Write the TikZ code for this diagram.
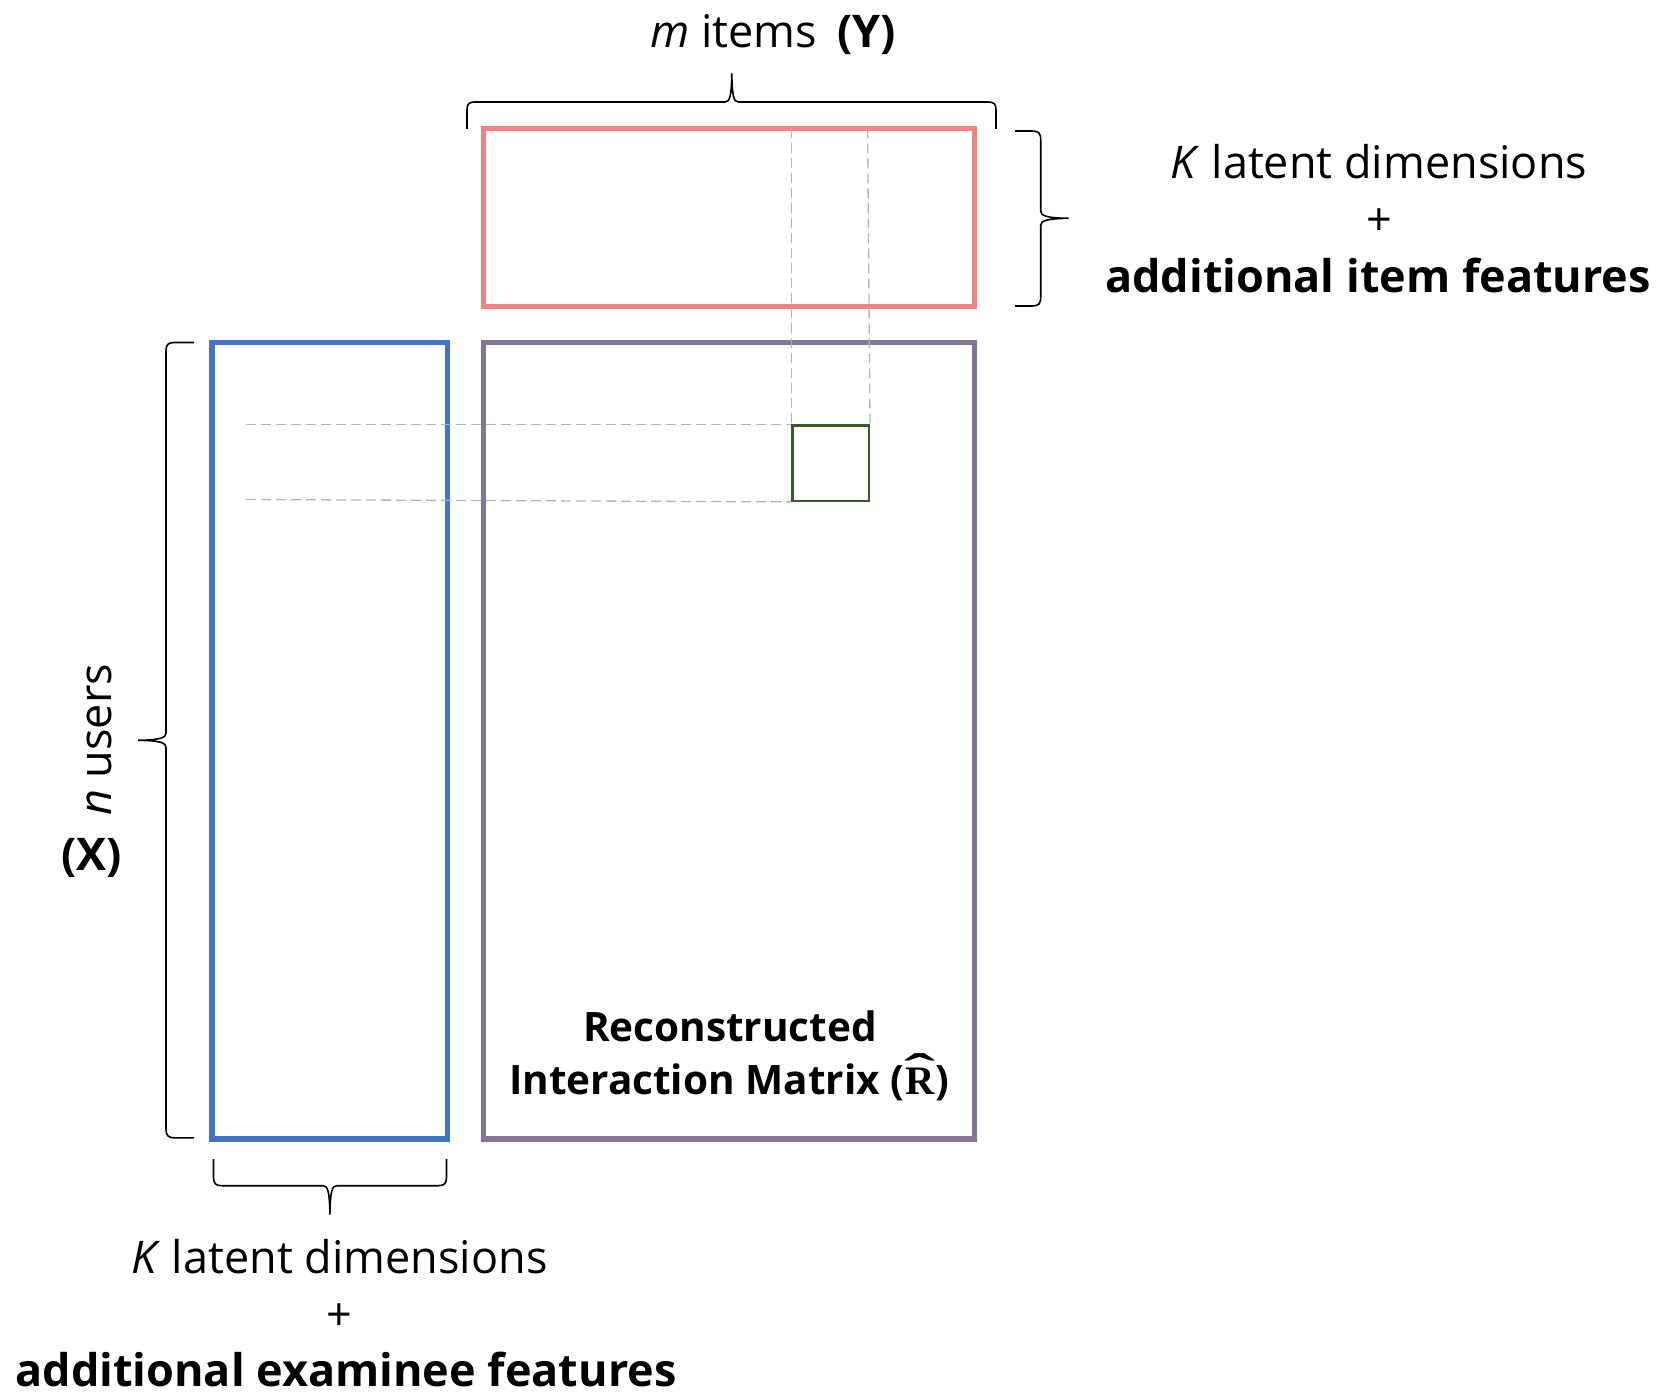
\documentclass[tikz,border=0pt]{standalone}
\usepackage{fontspec}
\usepackage{graphicx}
\setmainfont{Open Sans}
\newfontfamily\hatserif{Liberation Serif}
\usetikzlibrary{calc}

\definecolor{itemred}{HTML}{EC8585}
\definecolor{userblue}{HTML}{4472C4}
\definecolor{matpurple}{HTML}{85749A}
\definecolor{cellgreen}{HTML}{3B5A2A}
\definecolor{guidegray}{HTML}{B4B4B4}

% bold serif R with a wide circumflex over it
\newcommand\rhat{\leavevmode\vbox{\offinterlineskip\halign{\hfil##\hfil\cr
  \scalebox{2.3}[1.15]{\hatserif\bfseries\char"02C6}\cr
  \noalign{\kern-0.47em}
  {\hatserif\bfseries R}\cr}}}

\tikzset{
  matbox/.style={line width=5.3pt},
  cellbox/.style={draw=cellgreen, line width=2.4pt},
  guide/.style={draw=guidegray, line width=1.3pt, dash pattern=on 10pt off 5pt},
  bracepath/.style={draw=black, line width=1.6pt},
  lbl/.style={inner sep=0pt, anchor=base, font=\fontsize{45}{54}\selectfont},
  blbl/.style={lbl, font=\fontsize{45}{54}\selectfont\bfseries},
  mlbl/.style={lbl, font=\fontsize{40.5}{48}\selectfont\bfseries},
}

\begin{document}
\begin{tikzpicture}[x=1pt, y=-1pt]
  \useasboundingbox (0,0) rectangle (1663,1396);

  % factor matrices and the reconstructed matrix
  \draw[matbox, draw=itemred]   (483.6,128.3) rectangle (974.7,306.5);
  \draw[matbox, draw=userblue]  (212.1,342.6) rectangle (447.6,1139.1);
  \draw[matbox, draw=matpurple] (483.6,342.6) rectangle (974.7,1139.1);

  % selected cell and the row / column that produce it
  \node[cellbox, minimum width=76.4pt, minimum height=75.3pt, inner sep=0pt, anchor=north west]
    (cell) at (791.2,424.2) {};
  \coordinate (rowA) at (246,424.2);
  \coordinate (rowB) at (246,499.5);
  \coordinate (colA) at (791.2,128.3);
  \coordinate (colB) at (867.6,128.3);
  \draw[guide] (rowA) -- (cell.north west);
  \draw[guide] (rowB) -- (cell.south west);
  \draw[guide] (colA) -- (cell.north west);
  \draw[guide] (colB) -- (cell.north east);

  % brace over the item matrix
  \draw[bracepath] (467,129) -- (467,110)
    .. controls (467,103.5) and (469,102) .. (476,102) -- (725,102)
    .. controls (729.5,102) and (731.5,97) .. (731.8,73.5)
    .. controls (732.1,97) and (734,102) .. (738.5,102) -- (987,102)
    .. controls (994,102) and (996,103.5) .. (996,110) -- (996,129);

  % brace right of the item matrix
  \draw[bracepath] (1015,131) -- (1032,131)
    .. controls (1038.5,131) and (1040.7,133) .. (1040.7,140) -- (1040.7,211)
    .. controls (1040.7,215.5) and (1045.5,218) .. (1068.5,218.3)
    .. controls (1045.5,218.6) and (1040.7,221) .. (1040.7,225.5) -- (1040.7,297)
    .. controls (1040.7,304) and (1038.5,306) .. (1032,306) -- (1015,306);

  % brace left of the user matrix
  \draw[bracepath] (194,342.5) -- (175,342.5)
    .. controls (168,342.5) and (166,344.5) .. (166,351) -- (166,733)
    .. controls (166,737.5) and (161,740) .. (138,740.3)
    .. controls (161,740.6) and (166,743) .. (166,747.5) -- (166,1129)
    .. controls (166,1135.5) and (168,1137.8) .. (175,1137.8) -- (194,1137.8);

  % brace under the user matrix
  \draw[bracepath] (213.5,1159) -- (213.5,1177)
    .. controls (213.5,1183.5) and (215.5,1185.7) .. (222,1185.7) -- (323,1185.7)
    .. controls (327.5,1185.7) and (329.6,1190.5) .. (329.9,1214.5)
    .. controls (330.2,1190.5) and (332.3,1185.7) .. (336.8,1185.7) -- (438,1185.7)
    .. controls (444.5,1185.7) and (446.5,1183.5) .. (446.5,1177) -- (446.5,1159);

  % labels
  \node[lbl] (items) at (773,47.5) {\textit{m} items\hspace{0.45em}\textbf{(Y)}};

  \node[lbl] (itemK)    at (1379,178.5) {\textit{K} latent dimensions};
  \node[lbl] (itemPlus) at (1379,235.5) {+};
  \node[blbl] (itemF)   at (1378,292.5) {additional item features};

  \node[lbl, rotate=90] (users) at (111,740) {\textit{n} users};
  \node[blbl] (usersX) at (91.7,870) {(X)};

  \node[lbl] (userK)    at (339.3,1273) {\textit{K} latent dimensions};
  \node[lbl] (userPlus) at (339.3,1330) {+};
  \node[blbl] (userF)   at (346,1386) {additional examinee features};

  \node[mlbl] (recon1) at (730,1041.5) {Reconstructed};
  \node[mlbl] (recon2) at (729,1094) {Interaction Matrix (\rhat)};
\end{tikzpicture}
\end{document}
